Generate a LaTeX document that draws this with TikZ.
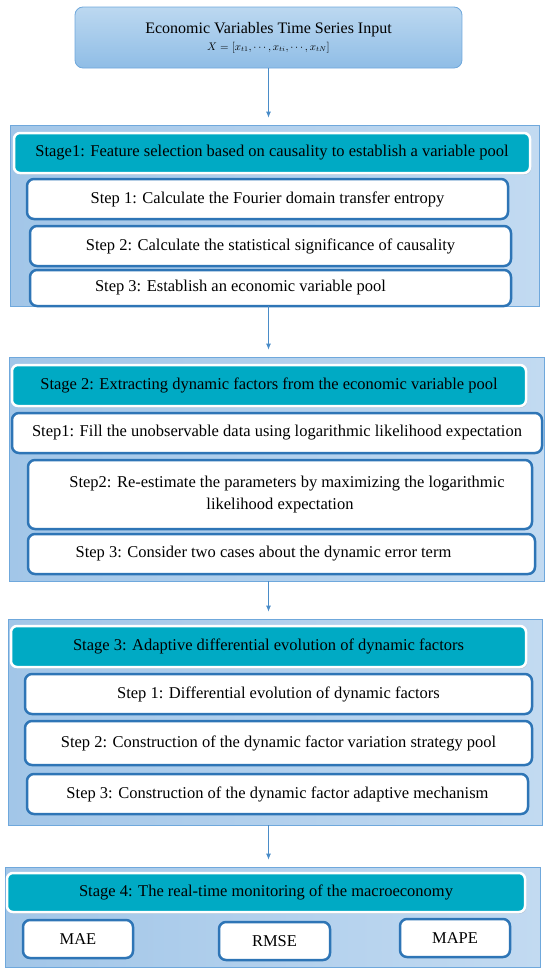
\documentclass[tikz,border=0pt]{standalone}
\usepackage{fontspec}
\setmainfont{Liberation Serif}
\usetikzlibrary{arrows.meta,shadows}
\definecolor{stageedge}{HTML}{6FA8DC}
\definecolor{stagelight}{HTML}{C2DAF1}
\definecolor{stagedark}{HTML}{A2C6E8}
\definecolor{inputtop}{HTML}{BCD8F0}
\definecolor{inputbottom}{HTML}{8FBDE6}
\definecolor{headfill}{HTML}{00AAC4}
\definecolor{stepedge}{HTML}{2E75B6}
\definecolor{arrowblue}{HTML}{4A8CC8}
\tikzset{
  stagebox/.style={rectangle, draw=stageedge, line width=0.8pt, left color=stagedark, right color=stagelight, inner sep=0pt},
  headbox/.style={rectangle, rounded corners=6pt, draw=white, line width=2.5pt, fill=headfill, inner sep=0pt,
    drop shadow={opacity=0.3, shadow xshift=1pt, shadow yshift=-1.5pt}, font=\fontsize{16.5}{19}\selectfont},
  stepbox/.style={rectangle, rounded corners=7pt, draw=stepedge, line width=2.5pt, fill=white, inner sep=0pt,
    font=\fontsize{16.5}{19}\selectfont},
  inputbox/.style={rectangle, rounded corners=8pt, draw=stageedge, line width=0.8pt, top color=inputtop,
    bottom color=inputbottom, inner sep=0pt, align=center, font=\fontsize{16}{19}\selectfont},
  flow/.style={draw=arrowblue, line width=0.8pt, -{Latex[length=6pt,width=5pt]}, shorten >=7pt}
}
\begin{document}
\begin{tikzpicture}[x=1pt,y=-1pt]
\useasboundingbox (0,0) rectangle (550,972);
\node[inputbox, minimum width=387pt, minimum height=61pt] (input) at (268.5,37.5)
  {Economic Variables Time Series Input\\[-2pt] {\fontsize{10.5}{12}\selectfont $X=[x_{t1},\cdots,x_{ti},\cdots,x_{tN}]$}};

\node[stagebox, minimum width=529pt, minimum height=181pt] (stage1) at (274.5,215.5) {};
\node[headbox, minimum width=516pt, minimum height=40pt] (s1head) at (272,153) {Stage1: Feature selection based on causality to establish a variable pool};
\node[stepbox, minimum width=481pt, minimum height=40pt] (s1a) at (267.5,199) {Step 1: Calculate the Fourier domain transfer entropy};
\node[stepbox, minimum width=481pt, minimum height=40pt] (s1b) at (270.5,246) {Step 2: Calculate the statistical significance of causality};
\node[stepbox, minimum width=481pt, minimum height=36pt] (s1c) at (270.5,288) {Step 3: Establish an economic variable pool\hspace*{60pt}};

\node[stagebox, minimum width=535pt, minimum height=224pt] (stage2) at (276.5,469) {};
\node[headbox, minimum width=514pt, minimum height=41pt] (s2head) at (269,385.5) {Stage 2: Extracting dynamic factors from the economic variable pool};
\node[stepbox, minimum width=530pt, minimum height=40pt] (s2a) at (277,433) {Step1: Fill the unobservable data using logarithmic likelihood expectation};
\node[stepbox, minimum width=504pt, minimum height=69pt, align=center] (s2b) at (280,494.5) {\hspace*{14pt}Step2: Re-estimate the parameters by maximizing the logarithmic\\[3pt]likelihood expectation};
\node[stepbox, minimum width=507pt, minimum height=40pt] (s2c) at (281.5,554) {Step 3: Consider two cases about the dynamic error term\hspace*{36pt}};

\node[stagebox, minimum width=534pt, minimum height=206pt] (stage3) at (275,722) {};
\node[headbox, minimum width=515pt, minimum height=41pt] (s3head) at (268.5,646.5) {Stage 3: Adaptive differential evolution of dynamic factors};
\node[stepbox, minimum width=507pt, minimum height=40pt] (s3a) at (278.5,694) {Step 1: Differential evolution of dynamic factors};
\node[stepbox, minimum width=507pt, minimum height=44pt] (s3b) at (278.5,743) {Step 2: Construction of the dynamic factor variation strategy pool};
\node[stepbox, minimum width=501pt, minimum height=40pt] (s3c) at (277.5,794) {Step 3: Construction of the dynamic factor adaptive mechanism};

\node[stagebox, minimum width=535pt, minimum height=100pt] (stage4) at (272.5,917) {};
\node[headbox, minimum width=518pt, minimum height=39pt] (s4head) at (266,892.5) {Stage 4: The real-time monitoring of the macroeconomy};
\node[stepbox, minimum width=110pt, minimum height=38pt] (mae) at (78,939) {MAE};
\node[stepbox, minimum width=111pt, minimum height=38pt] (rmse) at (274.5,941) {RMSE};
\node[stepbox, minimum width=110pt, minimum height=38pt] (mape) at (455,938) {MAPE};

\draw[flow] (input.south) -- (input.south |- stage1.north);
\draw[flow] (stage1.south -| input.south) -- (input.south |- stage2.north);
\draw[flow] (stage2.south -| input.south) -- (input.south |- stage3.north);
\draw[flow] (stage3.south -| input.south) -- (input.south |- stage4.north);
\end{tikzpicture}
\end{document}
